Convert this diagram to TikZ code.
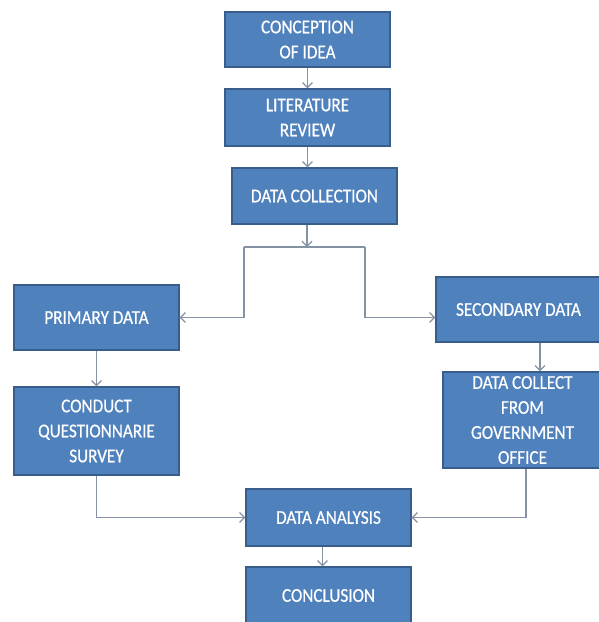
\documentclass[tikz,border=0pt]{standalone}
\usepackage{fontspec}
\setmainfont{Carlito}
\newfontfamily\boxfont[FakeStretch=0.88,FakeBold=0.6]{Carlito}
\usetikzlibrary{arrows.meta}
\definecolor{boxfill}{HTML}{4F81BD}
\definecolor{boxline}{HTML}{385D8A}
\definecolor{conn}{HTML}{8592A3}
\tikzset{
  box/.style={draw=boxline, fill=boxfill, line width=1.2pt, text=white, align=center,
    inner sep=0pt, font=\boxfont\fontsize{19.5}{25}\selectfont},
  conline/.style={draw=conn, line width=1.4pt},
  arr/.style={conline, -{Straight Barb[length=5pt,width=10pt,line width=1.2pt]}}
}
\begin{document}
\begin{tikzpicture}[x=1pt,y=1pt]
\useasboundingbox (0,0) rectangle (599,-622);
\node[box, minimum width=165pt, minimum height=55pt] (idea) at (307.5,-39.5) {CONCEPTION\\OF IDEA};
\node[box, minimum width=165pt, minimum height=57pt] (lit) at (307.5,-117.5) {LITERATURE\\REVIEW};
\node[box, minimum width=165pt, minimum height=56pt] (coll) at (314.5,-196) {DATA COLLECTION};
\node[box, minimum width=165pt, minimum height=65pt] (prim) at (96.5,-317.5) {PRIMARY DATA};
\node[box, minimum width=165pt, minimum height=65pt] (sec) at (518.5,-309.5) {SECONDARY DATA};
\node[box, minimum width=165pt, minimum height=88pt] (cond) at (96.5,-431) {CONDUCT\\QUESTIONNARIE\\SURVEY};
\node[box, minimum width=159pt, minimum height=96pt] (gov) at (522.5,-420) {DATA COLLECT\\FROM\\GOVERNMENT\\OFFICE};
\node[box, minimum width=165pt, minimum height=57pt] (ana) at (328.5,-517.5) {DATA ANALYSIS};
\node[box, minimum width=165pt, minimum height=57pt] (conc) at (328.5,-595.5) {CONCLUSION};

\coordinate (jc) at (307,-247);
\coordinate (jl) at (244,-247);
\coordinate (jr) at (365,-247);

\draw[arr] (idea.south) -- (lit.north);
\draw[arr] (lit.south) -- (lit.south |- coll.north);
\draw[arr] (coll.south -| jc) -- (jc);
\draw[conline] (jl) -- (jr);
\draw[arr] (jl) |- (prim.east);
\draw[arr] (jr) |- (sec.west |- prim.east);
\draw[arr] (prim.south) -- (cond.north);
\draw[arr] ([xshift=21.5pt]sec.south) -- ([xshift=21.5pt]sec.south |- gov.north);
\draw[arr] (cond.south) |- (ana.west);
\draw[arr] ([xshift=3.5pt]gov.south) |- (ana.east);
\draw[arr] ([xshift=-6pt]ana.south) -- ([xshift=-6pt]conc.north);
\end{tikzpicture}
\end{document}
